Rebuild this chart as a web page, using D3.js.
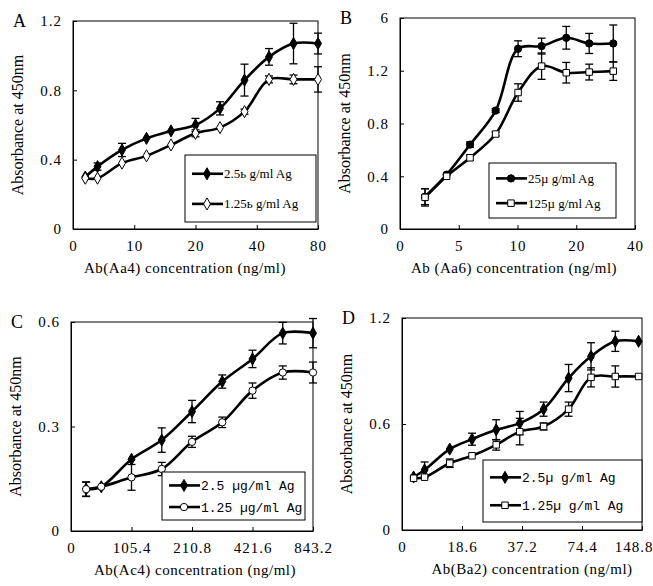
<!DOCTYPE html>
<html>
<head>
<meta charset="utf-8">
<script src="https://cdn.jsdelivr.net/npm/d3@7"></script>
<style>
  body { margin: 0; background: white; }
  text { fill: black; }
</style>
</head>
<body>
<div id="chart-area"></div>
<script>
// ---- data ----
// A
const aXTicks = [0, 10, 20, 40, 80]
const aYTicks = [0, 0.4, 0.8, 1.2]
const aYLabels = ["0", "0.4", "0.8", "1.2"]
const aConc = [2, 4, 8, 12, 16, 20, 28, 36, 48, 64, 80]
const aHigh = [0.30, 0.36, 0.456, 0.523, 0.566, 0.60, 0.696, 0.859, 0.993, 1.07, 1.07]
const aHighErr = [0.01, 0.021, 0.038, 0.01, 0.01, 0.038, 0.038, 0.092, 0.048, 0.117, 0.06]
const aLow = [0.293, 0.293, 0.38, 0.422, 0.485, 0.552, 0.585, 0.677, 0.863, 0.863, 0.863]
const aLowErr = [0.01, 0.01, 0.01, 0.01, 0.01, 0.02, 0.01, 0.015, 0.02, 0.025, 0.073]
const aLegend = ["2.5ь g/ml Ag", "1.25ь g/ml Ag"]

// B
const bXTicks = [0, 5, 10, 20, 40]
const bYTicks = [0, 0.4, 0.8, 1.2, 1.6]
const bYLabels = ["0", "0.4", "0.8", "1.2", "6"]
const bConc = [2.13, 3.97, 5.96, 8.14, 10.1, 14.1, 18.3, 24.4, 32.6]
const bHigh = [0.245, 0.412, 0.64, 0.898, 1.367, 1.387, 1.45, 1.407, 1.407]
const bHighErr = [0.06, 0.01, 0.02, 0.015, 0.06, 0.06, 0.086, 0.076, 0.14]
const bLow = [0.24, 0.40, 0.54, 0.72, 1.035, 1.235, 1.185, 1.19, 1.197]
const bLowErr = [0.066, 0.01, 0.02, 0.015, 0.066, 0.1, 0.078, 0.06, 0.07]
const bLegend = ["25\u00b5 g/ml Ag", "125\u00b5 g/ml Ag"]

// C
const cXTicks = [0, 105.4, 210.8, 421.6, 843.2]
const cYTicks = [0, 0.3, 0.6]
const cYLabels = ["0", "0.3", "0.6"]
const cConc = [26.35, 52.7, 105.4, 158.1, 210.8, 316.2, 421.6, 632.4, 843.2]
const cHigh = [0.12, 0.127, 0.206, 0.261, 0.343, 0.429, 0.494, 0.568, 0.568]
const cHighErr = [0.02, 0.005, 0.01, 0.035, 0.032, 0.019, 0.025, 0.031, 0.042]
const cLow = [0.12, 0.127, 0.154, 0.178, 0.256, 0.312, 0.403, 0.455, 0.455]
const cLowErr = [0.021, 0.005, 0.037, 0.019, 0.016, 0.015, 0.022, 0.019, 0.03]
const cLegend = ["2.5 \u00b5g/ml Ag", "1.25 \u00b5g/ml Ag"]

// D
const dXTicks = [0, 18.6, 37.2, 74.4, 148.8]
const dYTicks = [0, 0.6, 1.2]
const dYLabels = ["0", "0.6", "1.2"]
const dConc = [3.6, 7.0, 14.8, 21.7, 29.2, 36.5, 50.6, 66.1, 85.6, 115.7, 144.6]
const dHigh = [0.30, 0.34, 0.458, 0.514, 0.567, 0.605, 0.684, 0.86, 0.983, 1.068, 1.068]
const dHighErr = [0.01, 0.045, 0.01, 0.034, 0.057, 0.066, 0.04, 0.077, 0.077, 0.057, 0]
const dLow = [0.293, 0.299, 0.378, 0.42, 0.482, 0.557, 0.586, 0.684, 0.864, 0.869, 0.869]
const dLowErr = [0.01, 0.01, 0.024, 0.01, 0.03, 0.075, 0.02, 0.04, 0.054, 0.06, 0]
const dLegend = ["2.5\u00b5 g/ml Ag", "1.25\u00b5 g/ml Ag"]

const serif = "'Liberation Serif', 'Times New Roman', serif"
const mono = "'Liberation Mono', 'Courier New', monospace"

const svg = d3.select("#chart-area").append("svg")
    .attr("width", 653)
    .attr("height", 586)
    .style("font-family", serif)

// layout of each panel (page pixels)
const panels = [
    {letter: "A", xt: aXTicks, yt: aYTicks, yl: aYLabels, conc: aConc, hi: aHigh, hiE: aHighErr, lo: aLow, loE: aLowErr, leg: aLegend,
     l: 73, r: 318, t: 21, b: 229, xTitle: "Ab(Aa4) concentration (ng/ml)", xTitleX: 185,
     hiSym: d3.symbolDiamond, loSym: d3.symbolDiamond, legBox: [185, 155, 131, 67], legFont: serif},
    {letter: "B", xt: bXTicks, yt: bYTicks, yl: bYLabels, conc: bConc, hi: bHigh, hiE: bHighErr, lo: bLow, loE: bLowErr, leg: bLegend,
     l: 400, r: 635, t: 18, b: 229, xTitle: "Ab (Aa6) concentration (ng/ml)", xTitleX: 514,
     hiSym: d3.symbolCircle, loSym: d3.symbolSquare, legBox: [489, 163, 127, 55], legFont: serif},
    {letter: "C", xt: cXTicks, yt: cYTicks, yl: cYLabels, conc: cConc, hi: cHigh, hiE: cHighErr, lo: cLow, loE: cLowErr, leg: cLegend,
     l: 71, r: 313, t: 322, b: 531, xTitle: "Ab(Ac4) concentration (ng/ml)", xTitleX: 195,
     hiSym: d3.symbolDiamond, loSym: d3.symbolCircle, legBox: [162, 472, 143, 48], legFont: mono},
    {letter: "D", xt: dXTicks, yt: dYTicks, yl: dYLabels, conc: dConc, hi: dHigh, hiE: dHighErr, lo: dLow, loE: dLowErr, leg: dLegend,
     l: 402, r: 642, t: 318, b: 530, xTitle: "Ab(Ba2) concentration (ng/ml)", xTitleX: 532,
     hiSym: d3.symbolDiamond, loSym: d3.symbolSquare, legBox: [483, 460, 159, 62], legFont: mono}
]

const symSize = {}
symSize[d3.symbolDiamond] = 38
symSize[d3.symbolCircle] = 36
symSize[d3.symbolSquare] = 42

const drawPanel = p => {
    const g = svg.append("g")
    const w = p.r - p.l

    // piecewise x scale: the tick values sit evenly spaced
    const x = d3.scaleLinear()
        .domain(p.xt)
        .range(p.xt.map((d, i) => p.l + i * w / (p.xt.length - 1)))
    const y = d3.scaleLinear()
        .domain([p.yt[0], p.yt[p.yt.length - 1]])
        .range([p.b, p.t])

    // frame
    g.append("rect")
        .attr("x", p.l).attr("y", p.t)
        .attr("width", w).attr("height", p.b - p.t)
        .attr("fill", "none").attr("stroke", "black").attr("stroke-width", 1)

    const xAxis = g.append("g")
        .attr("transform", `translate(0, ${p.b})`)
        .call(d3.axisBottom(x).tickValues(p.xt).tickSizeInner(-4).tickSizeOuter(0)
            .tickPadding(11).tickFormat(d => String(d)))
    const yAxis = g.append("g")
        .attr("transform", `translate(${p.l}, 0)`)
        .call(d3.axisLeft(y).tickValues(p.yt).tickSizeInner(-4).tickSizeOuter(0)
            .tickPadding(11).tickFormat((d, i) => p.yl[i]))
    ;[xAxis, yAxis].forEach(a => {
        a.attr("font-family", null).attr("font-size", null)
        a.selectAll("path, line").attr("stroke", "black")
        a.selectAll("text")
            .style("font-family", serif)
            .style("font-size", "15px")
            .attr("letter-spacing", "1px")
            .attr("fill", "black")
    })
    // keep the last x label inside the picture
    xAxis.selectAll(".tick text")
        .filter(d => x(d) + 18 > 653)
        .attr("text-anchor", "end")
        .attr("dx", 11)

    // titles
    g.append("text")
        .attr("x", p.l - 60).attr("y", p.t + 6)
        .style("font-size", "18px")
        .text(p.letter)
    g.append("text")
        .attr("transform", `translate(${p.l - 50}, ${(p.t + p.b) / 2}) rotate(-90)`)
        .attr("text-anchor", "middle")
        .style("font-size", "16px")
        .text("Absorbance at 450nm")
    g.append("text")
        .attr("x", p.xTitleX).attr("y", p.b + 44)
        .attr("text-anchor", "middle")
        .style("font-size", "15px")
        .attr("letter-spacing", "0.5px")
        .text(p.xTitle)

    const series = [
        {vals: p.hi, err: p.hiE, sym: p.hiSym, fill: "black"},
        {vals: p.lo, err: p.loE, sym: p.loSym, fill: "white"}
    ]

    const line = d3.line()
        .x(d => x(d.c))
        .y(d => y(d.v))
        .curve(d3.curveCatmullRom.alpha(0.5))

    series.forEach(s => {
        const pts = p.conc.map((c, i) => ({c: c, v: s.vals[i], e: s.err[i]}))

        // error bars
        const eb = g.append("g")
        pts.filter(d => d.e > 0.012).forEach(d => {
            const cx = x(d.c), y0 = y(d.v - d.e), y1 = y(d.v + d.e)
            eb.append("line").attr("x1", cx).attr("x2", cx).attr("y1", y0).attr("y2", y1)
            eb.append("line").attr("x1", cx - 4).attr("x2", cx + 4).attr("y1", y0).attr("y2", y0)
            eb.append("line").attr("x1", cx - 4).attr("x2", cx + 4).attr("y1", y1).attr("y2", y1)
        })
        eb.selectAll("line").attr("stroke", "black").attr("stroke-width", 1.3)

        g.append("path")
            .datum(pts)
            .attr("d", line)
            .attr("fill", "none")
            .attr("stroke", "black")
            .attr("stroke-width", 2.6)

        g.selectAll(null)
            .data(pts)
            .join("path")
            .attr("transform", d => `translate(${x(d.c)}, ${y(d.v)})`)
            .attr("d", d3.symbol().type(s.sym).size(symSize[s.sym]))
            .attr("fill", s.fill)
            .attr("stroke", "black")
            .attr("stroke-width", 1)
    })

    // legend
    const [bx, by, bw, bh] = p.legBox
    const lg = g.append("g")
    lg.append("rect")
        .attr("x", bx).attr("y", by).attr("width", bw).attr("height", bh)
        .attr("fill", "white").attr("stroke", "black").attr("stroke-width", 1)
    series.forEach((s, i) => {
        const ly = by + bh * (i === 0 ? 0.28 : 0.73)
        lg.append("line")
            .attr("x1", bx + 7).attr("x2", bx + 38)
            .attr("y1", ly).attr("y2", ly)
            .attr("stroke", "black").attr("stroke-width", 2.6)
        lg.append("path")
            .attr("transform", `translate(${bx + 22}, ${ly})`)
            .attr("d", d3.symbol().type(s.sym).size(symSize[s.sym]))
            .attr("fill", s.fill).attr("stroke", "black")
        lg.append("text")
            .attr("x", bx + 39).attr("y", ly + 4.5)
            .style("font-size", "13px")
            .style("font-family", p.legFont)
            .text(p.leg[i])
    })
}

panels.forEach(drawPanel)
</script>
</body>
</html>
